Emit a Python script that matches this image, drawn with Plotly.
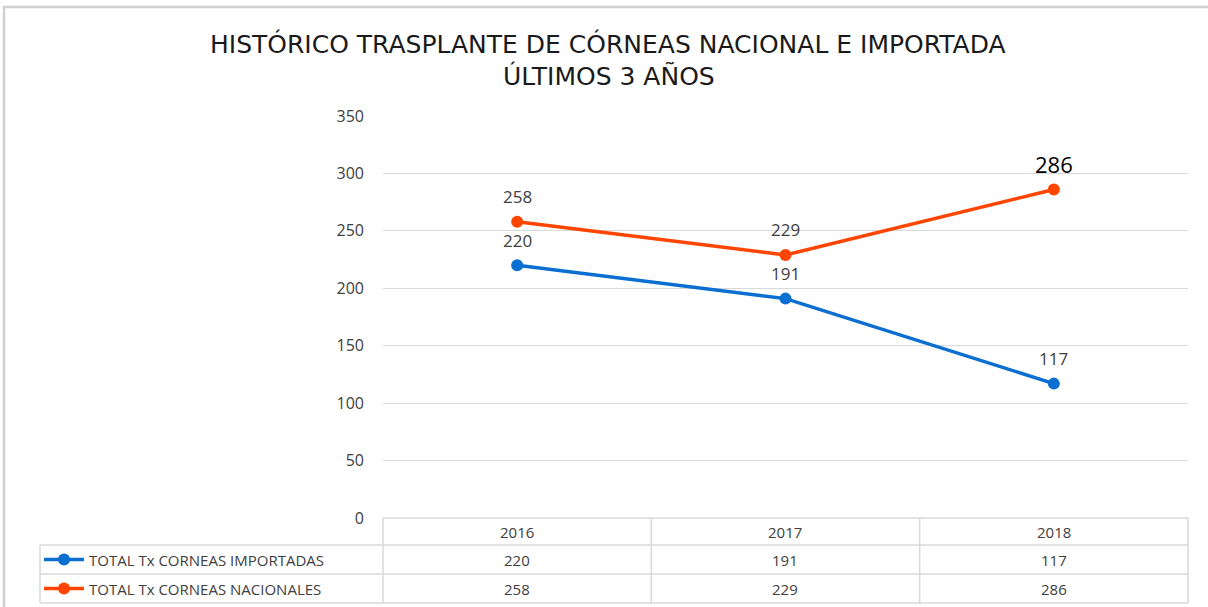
import plotly.graph_objects as go

years = ["2016", "2017", "2018"]
importadas = [220, 191, 117]
nacionales = [258, 229, 286]
series_names = ["TOTAL Tx CORNEAS IMPORTADAS", "TOTAL Tx CORNEAS NACIONALES"]
series_values = [importadas, nacionales]
series_colors = ["#0A6FD0", "#FF4500"]
title_lines = ["HISTÓRICO TRASPLANTE DE CÓRNEAS NACIONAL E IMPORTADA", "ÚLTIMOS 3 AÑOS"]
y_ticks = [0, 50, 100, 150, 200, 250, 300, 350]

W, H = 1208, 607
def px(x):
    return x / W
def py(y):
    return 1 - y / H

plot_l, plot_r, plot_t, plot_b = 383, 1188, 116, 518
table_l = 40
row_edges = [518, 545, 574, 603]
FONT = "Open Sans"
TFONT = "DejaVu Sans"
GRID = "#D9D9D9"
TXT = "#404040"

fig = go.Figure()

shapes = []
annotations = []

label_sizes = [[17, 17, 17], [17, 17, 22]]
label_colors = [[TXT, TXT, TXT], [TXT, TXT, "#000000"]]
for name, vals, col, ls, lcl in zip(series_names, series_values, series_colors, label_sizes, label_colors):
    fig.add_trace(go.Scatter(
        x=years, y=vals, name=name, mode="lines+markers",
        line=dict(color=col, width=3.5),
        marker=dict(color=col, size=12),
        cliponaxis=False, showlegend=False, hoverinfo="x+y+name",
    ))
    for idx, (v, s, c) in enumerate(zip(vals, ls, lcl)):
        annotations.append(dict(xref="x", yref="y", x=idx, y=v, yshift=25 if s < 20 else 26,
                                xanchor="center", yanchor="middle", showarrow=False, text=str(v),
                                font=dict(family=FONT, size=s, color=c)))

# outer frame
shapes.append(dict(type="rect", xref="paper", yref="paper", x0=px(4), x1=px(1215), y0=py(620), y1=py(7),
                   line=dict(color="#D0D0D0", width=2.5)))
ncol = len(years)
cw = (plot_r - plot_l) / ncol
lc = "#D9D9D9"
for y in row_edges:
    x0 = plot_l if y == row_edges[0] else table_l
    shapes.append(dict(type="line", xref="paper", yref="paper", x0=px(x0), x1=px(plot_r), y0=py(y), y1=py(y),
                       line=dict(color=lc, width=1.5)))
for i in range(ncol + 1):
    x = plot_l + i * cw
    shapes.append(dict(type="line", xref="paper", yref="paper", x0=px(x), x1=px(x), y0=py(row_edges[0]), y1=py(row_edges[-1]),
                       line=dict(color=lc, width=1.5)))
shapes.append(dict(type="line", xref="paper", yref="paper", x0=px(table_l), x1=px(table_l), y0=py(row_edges[1]), y1=py(row_edges[-1]),
                   line=dict(color=lc, width=1.5)))

def ann(x, y, text, size, color=TXT, family=FONT, xanchor="center"):
    annotations.append(dict(xref="paper", yref="paper", x=px(x), y=py(y), xanchor=xanchor, yanchor="middle",
                            text=text, showarrow=False, font=dict(family=family, size=size, color=color)))

for i, yr in enumerate(years):
    ann(plot_l + (i + 0.5) * cw, (row_edges[0] + row_edges[1]) / 2, yr, 15)
for r, (name, vals, col) in enumerate(zip(series_names, series_values, series_colors)):
    yc = (row_edges[r + 1] + row_edges[r + 2]) / 2
    shapes.append(dict(type="line", xref="paper", yref="paper", x0=px(44), x1=px(84), y0=py(yc), y1=py(yc),
                       line=dict(color=col, width=3.5)))
    shapes.append(dict(type="circle", xref="paper", yref="paper", x0=px(58), x1=px(70), y0=py(yc + 6), y1=py(yc - 6),
                       fillcolor=col, line=dict(color=col, width=0)))
    ann(87, yc, name, 15, xanchor="left")
    for i, v in enumerate(vals):
        ann(plot_l + (i + 0.5) * cw, yc, str(v), 15)

ann(608, 44, title_lines[0], 25, color="#1A1A1A", family=TFONT)
ann(609, 76, title_lines[1], 25, color="#1A1A1A", family=TFONT)

fig.update_layout(
    width=W, height=H, margin=dict(l=0, r=0, t=0, b=0, pad=0, autoexpand=False),
    paper_bgcolor="white", plot_bgcolor="white",
    shapes=shapes, annotations=annotations,
    xaxis=dict(domain=[px(plot_l), px(plot_r)], type="category", range=[-0.5, 2.5], automargin=False,
               showticklabels=False, showgrid=False, zeroline=False, showline=False, ticks=""),
    yaxis=dict(domain=[py(plot_b), py(plot_t)], range=[0, 350], tickvals=y_ticks, automargin=False,
               showgrid=True, gridcolor=GRID, gridwidth=1.2, zeroline=False, showline=False, ticks="",
               ticklabelstandoff=18,
               tickfont=dict(family=FONT, size=16, color=TXT)),
)

fig.write_html("out.html", config={"displayModeBar": False},
               post_script="document.body.style.margin='0';document.body.style.overflow='hidden';")
